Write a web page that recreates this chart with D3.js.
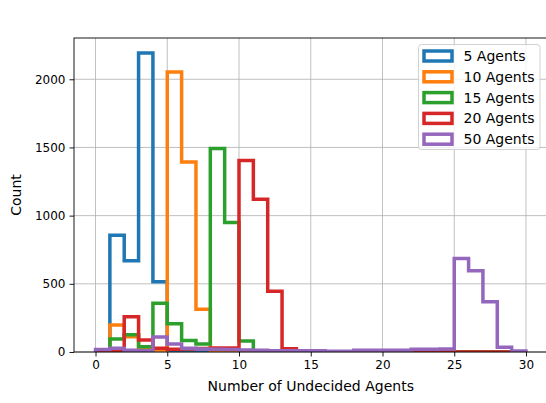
<!DOCTYPE html>
<html>
<head>
<meta charset="utf-8">
<script src="https://cdn.jsdelivr.net/npm/d3@7"></script>
<style>
  html, body { margin: 0; padding: 0; background: #fff; }
  svg { display: block; font-family: "DejaVu Sans", sans-serif; }
</style>
</head>
<body>
<svg id="chart" width="546" height="403"></svg>
<script>
// Histogram bin edges: unit bins from 0 to 30
const binEdges = d3.range(0, 31);

// Counts per bin [0,1), [1,2), ... [29,30]
const agents5  = [0, 857, 670, 2193, 515, 0, 0, 0, 0, 0, 0, 0, 0, 0, 0, 0, 0, 0, 0, 0, 0, 0, 0, 0, 0, 0, 0, 0, 0, 0];
const agents10 = [0, 198, 112, 35, 15, 2053, 1394, 313, 5, 5, 0, 0, 0, 0, 0, 0, 0, 0, 0, 0, 0, 0, 0, 0, 0, 0, 0, 0, 0, 0];
const agents15 = [0, 95, 127, 39, 357, 207, 85, 59, 1492, 950, 81, 0, 0, 0, 0, 0, 0, 0, 0, 0, 0, 0, 0, 0, 0, 0, 0, 0, 0, 0];
const agents20 = [0, 3, 258, 88, 28, 20, 22, 25, 30, 30, 1405, 1120, 445, 24, 0, 0, 0, 0, 0, 0, 0, 0, 0, 0, 0, 0, 0, 0, 0, 0];
const agents50 = [18, 27, 12, 10, 110, 59, 27, 22, 20, 18, 15, 12, 10, 10, 10, 10, 5, 5, 12, 12, 12, 12, 20, 20, 22, 686, 596, 369, 34, 8];

const seriesNames  = ["5 Agents", "10 Agents", "15 Agents", "20 Agents", "50 Agents"];
const seriesValues = [agents5, agents10, agents15, agents20, agents50];
const seriesColors = ["#1f77b4", "#ff7f0e", "#2ca02c", "#d62728", "#9467bd"];

const xTicks = [0, 5, 10, 15, 20, 25, 30];
const yTicks = [0, 500, 1000, 1500, 2000];

const plot = { left: 74, right: 547.5, top: 38, bottom: 352 };
const svg = d3.select("#chart");

const xMin = binEdges[0], xMax = binEdges[binEdges.length - 1];
const xPad = (xMax - xMin) * 0.05;
const x = d3.scaleLinear().domain([xMin - xPad, xMax + xPad]).range([plot.left, plot.right]);
const yMax = d3.max(seriesValues, s => d3.max(s)) * 1.05;
const y = d3.scaleLinear().domain([0, yMax]).range([plot.bottom, plot.top]);

svg.append("defs").append("clipPath").attr("id", "plotclip")
  .append("rect")
  .attr("x", plot.left).attr("y", plot.top)
  .attr("width", plot.right - plot.left).attr("height", plot.bottom - plot.top);

// Grid
const grid = svg.append("g").attr("stroke", "#b0b0b0").attr("stroke-width", 0.8);
grid.selectAll(".gx").data(xTicks).join("line")
  .attr("x1", d => x(d)).attr("x2", d => x(d))
  .attr("y1", plot.top).attr("y2", plot.bottom);
grid.selectAll(".gy").data(yTicks).join("line")
  .attr("x1", plot.left).attr("x2", plot.right)
  .attr("y1", d => y(d)).attr("y2", d => y(d));

// Step outlines of each histogram
function stepPoints(values) {
  const pts = [[binEdges[0], 0]];
  values.forEach((v, i) => {
    pts.push([binEdges[i], v]);
    pts.push([binEdges[i + 1], v]);
  });
  pts.push([binEdges[binEdges.length - 1], 0]);
  return pts;
}
const line = d3.line().x(d => x(d[0])).y(d => y(d[1]));

const hist = svg.append("g").attr("clip-path", "url(#plotclip)");
seriesValues.forEach((vals, i) => {
  hist.append("path")
    .attr("d", line(stepPoints(vals)))
    .attr("fill", "none")
    .attr("stroke", seriesColors[i])
    .attr("stroke-width", 3.5)
    .attr("stroke-linejoin", "miter");
});

// Axes
const xAxis = d3.axisBottom(x).tickValues(xTicks).tickSizeOuter(0).tickSize(4.5).tickPadding(4);
const yAxis = d3.axisLeft(y).tickValues(yTicks).tickFormat(d3.format("d"))
  .tickSizeOuter(0).tickSize(4.5).tickPadding(4);

const gx = svg.append("g").attr("transform", `translate(0,${plot.bottom})`).call(xAxis);
const gy = svg.append("g").attr("transform", `translate(${plot.left},0)`).call(yAxis);
[gx, gy].forEach(g => {
  g.select(".domain").remove();
  g.selectAll("text").attr("font-size", 12).attr("fill", "#000").attr("font-family", "DejaVu Sans");
  g.selectAll(".tick line").attr("stroke", "#000").attr("stroke-width", 0.9);
});

// Spines
svg.append("rect")
  .attr("x", plot.left).attr("y", plot.top)
  .attr("width", plot.right - plot.left).attr("height", plot.bottom - plot.top)
  .attr("fill", "none").attr("stroke", "#000").attr("stroke-width", 0.9);

// Axis labels
svg.append("text")
  .attr("x", (plot.left + plot.right) / 2).attr("y", 391)
  .attr("text-anchor", "middle").attr("font-size", 14)
  .text("Number of Undecided Agents");
svg.append("text")
  .attr("transform", `translate(21,${(plot.top + plot.bottom) / 2}) rotate(-90)`)
  .attr("text-anchor", "middle").attr("font-size", 14)
  .text("Count");

// Legend
const legend = svg.append("g");
legend.append("rect")
  .attr("x", 418.5).attr("y", 44.5).attr("width", 121.5).attr("height", 105)
  .attr("rx", 3).attr("fill", "#fff").attr("fill-opacity", 0.8)
  .attr("stroke", "#cccccc").attr("stroke-width", 0.9);
seriesNames.forEach((name, i) => {
  const cy = 56 + i * 20.8;
  legend.append("rect")
    .attr("x", 424).attr("y", cy - 5)
    .attr("width", 28).attr("height", 10)
    .attr("fill", "#fff").attr("stroke", seriesColors[i]).attr("stroke-width", 3.5);
  legend.append("text")
    .attr("x", 463.5).attr("y", cy + 5)
    .attr("font-size", 14).text(name);
});
</script>
</body>
</html>
